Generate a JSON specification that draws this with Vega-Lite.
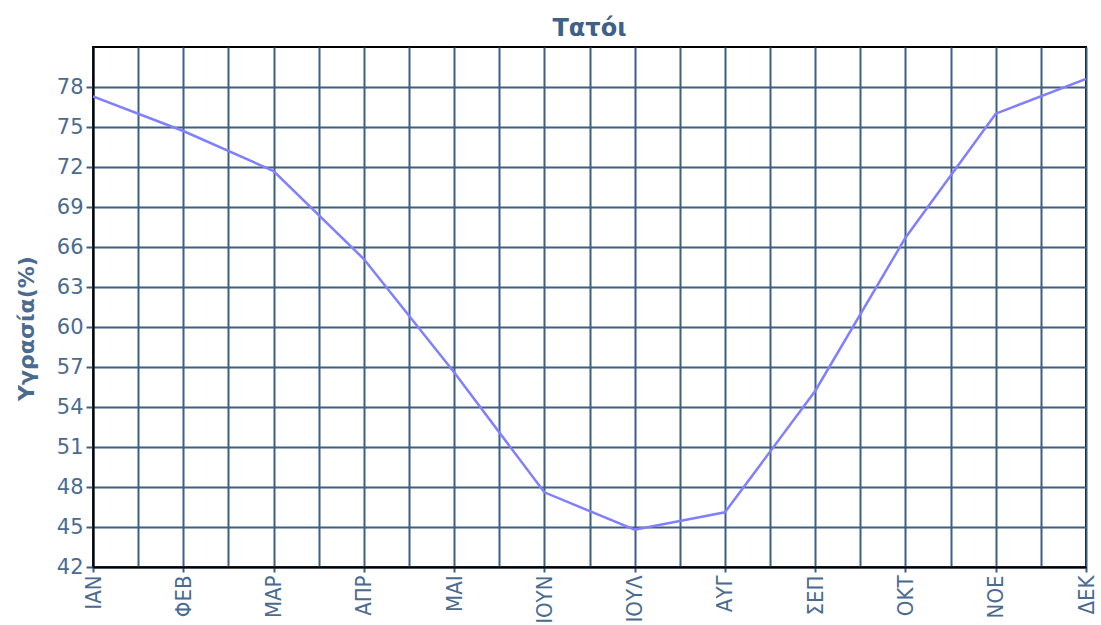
{
  "$schema": "https://vega.github.io/schema/vega-lite/v6.json",
  "autosize": {"type": "none"},
  "width": 993,
  "height": 520,
  "padding": {"left": 93, "top": 47, "right": 15, "bottom": 58},
  "background": "white",
  "config": {
    "view": {"stroke": "black", "strokeWidth": 2},
    "font": "DejaVu Sans"
  },
  "title": {
    "text": "Τατόι",
    "anchor": "middle",
    "offset": 6,
    "fontSize": 24,
    "fontWeight": "bold",
    "font": "DejaVu Sans",
    "color": "#3f6089"
  },
  "data": {
    "values": [
      {"m": 0, "month": "ΙΑΝ", "hum": 77.3},
      {"m": 1, "month": "ΦΕΒ", "hum": 74.7},
      {"m": 2, "month": "ΜΑΡ", "hum": 71.7},
      {"m": 3, "month": "ΑΠΡ", "hum": 65.1},
      {"m": 4, "month": "ΜΑΙ", "hum": 56.6},
      {"m": 5, "month": "ΙΟΥΝ", "hum": 47.6},
      {"m": 6, "month": "ΙΟΥΛ", "hum": 44.8},
      {"m": 7, "month": "ΑΥΓ", "hum": 46.1},
      {"m": 8, "month": "ΣΕΠ", "hum": 55.2},
      {"m": 9, "month": "ΟΚΤ", "hum": 66.7},
      {"m": 10, "month": "ΝΟΕ", "hum": 76.0},
      {"m": 11, "month": "ΔΕΚ", "hum": 78.6}
    ]
  },
  "mark": {"type": "line", "color": "#8080ff", "strokeWidth": 2.5, "clip": true},
  "encoding": {
    "x": {
      "field": "m",
      "type": "quantitative",
      "scale": {"domain": [0, 11], "nice": false, "zero": false},
      "axis": {
        "title": null,
        "values": [0, 0.5, 1, 1.5, 2, 2.5, 3, 3.5, 4, 4.5, 5, 5.5, 6, 6.5, 7, 7.5, 8, 8.5, 9, 9.5, 10, 10.5, 11],
        "labelExpr": "datum.value % 1 ? '' : ['ΙΑΝ','ΦΕΒ','ΜΑΡ','ΑΠΡ','ΜΑΙ','ΙΟΥΝ','ΙΟΥΛ','ΑΥΓ','ΣΕΠ','ΟΚΤ','ΝΟΕ','ΔΕΚ'][datum.value]",
        "labelAngle": 270,
        "labelAlign": "right",
        "labelBaseline": "middle",
        "labelFont": "DejaVu Sans Condensed",
        "labelFontSize": 22,
        "labelColor": "#4a6b8f",
        "labelPadding": 3,
        "labelOverlap": false,
        "labelFlush": false,
        "tickSize": 5,
        "tickColor": "#3d5f82",
        "tickWidth": 2,
        "tickOpacity": {"condition": {"test": "datum.value % 1 !== 0", "value": 0}, "value": 1},
        "grid": true,
        "gridColor": "#3d5f82",
        "gridWidth": 2,
        "gridOpacity": 1,
        "domainColor": "black",
        "domainWidth": 2
      }
    },
    "y": {
      "field": "hum",
      "type": "quantitative",
      "scale": {"domain": [42, 81], "nice": false, "zero": false},
      "axis": {
        "title": "Υγρασία(%)",
        "titleFont": "DejaVu Sans",
        "titleFontSize": 22,
        "titleFontWeight": "bold",
        "titleColor": "#4a6b8f",
        "titleAngle": 270,
        "titleX": -67,
        "titleY": 281,
        "titleAlign": "center",
        "titleBaseline": "middle",
        "values": [42, 45, 48, 51, 54, 57, 60, 63, 66, 69, 72, 75, 78],
        "labelFont": "DejaVu Sans",
        "labelFontSize": 21,
        "labelColor": "#4a6b8f",
        "labelPadding": 3,
        "labelOverlap": false,
        "labelFlush": false,
        "tickSize": 7,
        "tickColor": "#3d5f82",
        "tickWidth": 2,
        "grid": true,
        "gridColor": "#3d5f82",
        "gridWidth": 2,
        "gridOpacity": 1,
        "domainColor": "black",
        "domainWidth": 2
      }
    }
  }
}
